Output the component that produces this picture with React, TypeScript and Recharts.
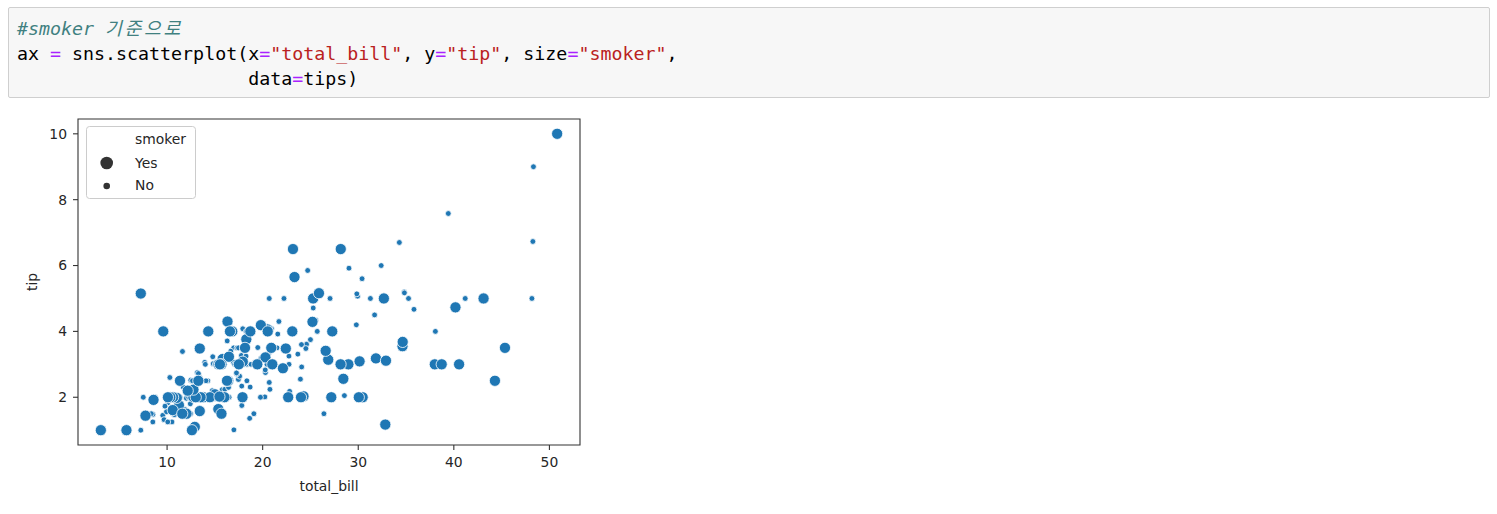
import React from "react";
import {
  ScatterChart,
  Scatter,
  XAxis,
  YAxis,
  ReferenceArea,
  Legend,
  Label,
} from "recharts";

// tips dataset, split by the "smoker" column: [total_bill, tip]
const smokerYes: [number, number][] = [
  [38.01, 3.0], [11.24, 1.76], [20.29, 3.21], [13.81, 2.0], [11.02, 1.98],
  [18.29, 3.76], [3.07, 1.0], [15.01, 2.09], [26.86, 3.14], [25.28, 5.0],
  [17.92, 3.08], [19.44, 3.0], [32.68, 5.0], [28.97, 3.0], [5.75, 1.0],
  [16.32, 4.3], [40.17, 4.73], [27.28, 4.0], [12.03, 1.5], [21.01, 3.0],
  [11.35, 2.5], [15.38, 3.0], [44.3, 2.5], [22.42, 3.48], [15.36, 1.64],
  [20.49, 4.06], [25.21, 4.29], [14.31, 4.0], [16.0, 2.0], [17.51, 3.0],
  [10.59, 1.61], [10.63, 2.0], [50.81, 10.0], [15.81, 3.16], [7.25, 5.15],
  [31.85, 3.18], [16.82, 4.0], [32.9, 3.11], [17.89, 2.0], [14.48, 2.0],
  [9.6, 4.0], [34.63, 3.55], [34.65, 3.68], [23.33, 5.65], [45.35, 3.5],
  [23.17, 6.5], [40.55, 3.0], [20.9, 3.5], [30.46, 2.0], [18.15, 3.5],
  [23.1, 4.0], [15.69, 1.5], [19.81, 4.19], [28.44, 2.56], [15.48, 2.02],
  [16.58, 4.0], [10.34, 2.0], [43.11, 5.0], [13.0, 2.0], [13.51, 2.0],
  [18.71, 4.0], [12.74, 2.01], [13.0, 2.0], [16.4, 2.5], [20.53, 4.0],
  [16.47, 3.23], [26.59, 3.41], [38.73, 3.0], [24.27, 2.03], [12.76, 2.23],
  [30.06, 2.0], [25.89, 5.16], [13.27, 2.5], [28.17, 6.5], [12.9, 1.1],
  [28.15, 3.0], [11.59, 1.5], [7.74, 1.44], [30.14, 3.09], [12.16, 2.2],
  [13.42, 3.48], [8.58, 1.92], [13.42, 1.58], [16.27, 2.5], [10.09, 2.0],
  [22.12, 2.88], [24.01, 2.0], [15.69, 3.0], [15.53, 3.0], [12.6, 1.0],
  [32.83, 1.17], [27.18, 2.0], [22.67, 2.0],
];

const smokerNo: [number, number][] = [
  [16.99, 1.01], [10.34, 1.66], [21.01, 3.5], [23.68, 3.31], [24.59, 3.61],
  [25.29, 4.71], [8.77, 2.0], [26.88, 3.12], [15.04, 1.96], [14.78, 3.23],
  [10.27, 1.71], [35.26, 5.0], [15.42, 1.57], [18.43, 3.0], [14.83, 3.02],
  [21.58, 3.92], [10.33, 1.67], [16.29, 3.71], [16.97, 3.5], [20.65, 3.35],
  [17.92, 4.08], [20.29, 2.75], [15.77, 2.23], [39.42, 7.58], [19.82, 3.18],
  [17.81, 2.34], [13.37, 2.0], [12.69, 2.0], [21.7, 4.3], [19.65, 3.0],
  [9.55, 1.45], [18.35, 2.5], [15.06, 3.0], [20.69, 2.45], [17.78, 3.27],
  [24.06, 3.6], [16.31, 2.0], [16.93, 3.07], [18.69, 2.31], [31.27, 5.0],
  [16.04, 2.24], [17.46, 2.54], [13.94, 3.06], [9.68, 1.32], [30.4, 5.6],
  [18.29, 3.0], [22.23, 5.0], [32.4, 6.0], [28.55, 2.05], [18.04, 3.0],
  [12.54, 2.5], [10.29, 2.6], [34.81, 5.2], [9.94, 1.56], [25.56, 4.34],
  [19.49, 3.51], [26.41, 1.5], [48.27, 6.73], [17.59, 2.64], [20.08, 3.15],
  [16.45, 2.47], [20.23, 2.01], [12.02, 1.97], [17.07, 3.0], [14.73, 2.2],
  [10.51, 1.25], [27.2, 4.0], [22.76, 3.0], [17.29, 2.71], [16.66, 3.4],
  [10.07, 1.83], [15.98, 2.03], [34.83, 5.17], [13.03, 2.0], [18.28, 4.0],
  [24.71, 5.85], [21.16, 3.0], [22.49, 3.5], [22.75, 3.25], [12.46, 1.5],
  [20.92, 4.08], [18.24, 3.76], [14.0, 3.0], [7.25, 1.0], [38.07, 4.0],
  [23.95, 2.55], [25.71, 4.0], [17.31, 3.5], [29.93, 5.07], [10.65, 1.5],
  [12.43, 1.8], [24.08, 2.92], [11.69, 2.31], [13.42, 1.68], [14.26, 2.5],
  [15.95, 2.0], [12.48, 2.52], [29.8, 4.2], [8.52, 1.48], [14.52, 2.0],
  [11.38, 2.0], [22.82, 2.18], [19.08, 1.5], [20.27, 2.83], [11.17, 1.5],
  [12.26, 2.0], [18.26, 3.25], [8.51, 1.25], [10.33, 2.0], [14.15, 2.0],
  [13.16, 2.75], [17.47, 3.5], [34.3, 6.7], [41.19, 5.0], [27.05, 5.0],
  [16.43, 2.3], [8.35, 1.5], [18.64, 1.36], [11.87, 1.63], [9.78, 1.73],
  [7.51, 2.0], [14.07, 2.5], [13.13, 2.0], [17.26, 2.74], [24.55, 2.0],
  [19.77, 2.0], [29.85, 5.14], [48.17, 5.0], [25.0, 3.75], [13.39, 2.61],
  [16.49, 2.0], [21.5, 3.5], [12.66, 2.5], [16.21, 2.0], [13.81, 2.0],
  [24.52, 3.48], [20.76, 2.24], [31.71, 4.5], [20.69, 5.0], [7.56, 1.44],
  [48.33, 9.0], [15.98, 3.0], [20.45, 3.0], [13.28, 2.72], [11.61, 3.39],
  [10.77, 1.47], [10.07, 1.25], [35.83, 4.67], [29.03, 5.92], [17.82, 1.75],
  [18.78, 3.0],
];

const smokerLevels = ["Yes", "No"];
const xTicks = [10, 20, 30, 40, 50];
const yTicks = [2, 4, 6, 8, 10];
const xDomain: [number, number] = [0.68, 53.2];
const yDomain: [number, number] = [0.55, 10.45];

const toRows = (pts: [number, number][]) =>
  pts.map(([total_bill, tip]) => ({ total_bill, tip }));

const BLUE = "#1f77b4";
const INK = "#262626";
const FONT = '"DejaVu Sans", sans-serif';
const MONO = '"DejaVu Sans Mono", "Noto Sans CJK KR", monospace';

const dot = (r: number) => (props: any) =>
  <circle cx={props.cx} cy={props.cy} r={r} fill={BLUE} stroke="#fff" strokeWidth={0.8} />;

const legendRadius: Record<string, number> = { Yes: 6.3, No: 3.3 };

function SizeLegend() {
  return (
    <svg width={110} height={73} style={{ display: "block", fontFamily: FONT }}>
      <rect x={0.5} y={0.5} width={109} height={72} rx={3} fill="#fff" fillOpacity={0.8} stroke="#cccccc" />
      <text x={49} y={18} fontSize={13.9} fill={INK}>smoker</text>
      {smokerLevels.map((lvl, i) => (
        <g key={lvl}>
          <circle cx={20.7} cy={37 + i * 23} r={legendRadius[lvl]} fill="#333333" />
          <text x={49} y={42 + i * 22} fontSize={13.9} fill={INK}>{lvl}</text>
        </g>
      ))}
    </svg>
  );
}

const P = ({ children }: { children: React.ReactNode }) => (
  <span style={{ color: "#aa22ff" }}>{children}</span>
);
const S = ({ children }: { children: React.ReactNode }) => (
  <span style={{ color: "#ba2121" }}>{children}</span>
);

export default function App() {
  return (
    <div style={{ position: "absolute", left: 0, top: 0, width: 1497, height: 514, background: "#fff" }}>
      <div
        style={{
          position: "absolute",
          left: 8,
          top: 7,
          width: 1480,
          height: 89,
          background: "#f7f7f7",
          border: "1px solid #cfcfcf",
          borderRadius: 2,
        }}
      >
        <pre
          style={{
            margin: 0,
            padding: "8px 0 0 8px",
            fontFamily: MONO,
            fontSize: 18.3,
            lineHeight: "25px",
            color: "#000",
          }}
        >
          <span style={{ color: "#408080", fontStyle: "italic" }}>
            #smoker <span style={{ letterSpacing: 2.7 }}>기준으로</span>
          </span>
          {"\n"}ax <P>=</P> sns.scatterplot(x<P>=</P><S>"total_bill"</S>, y<P>=</P><S>"tip"</S>, size<P>=</P><S>"smoker"</S>,
          {"\n"}{"                     "}data<P>=</P>tips)
        </pre>
      </div>

      <div style={{ position: "absolute", left: 0, top: 105 }}>
        <ScatterChart
          width={600}
          height={409}
          margin={{ top: 14, right: 20, bottom: 39, left: 38 }}
          style={{ fontFamily: FONT }}
        >
          <XAxis
            type="number"
            dataKey="total_bill"
            domain={xDomain}
            allowDataOverflow
            ticks={xTicks}
            interval={0}
            height={30}
            axisLine={false}
            tickSize={5}
            tickMargin={7}
            tickLine={{ stroke: "#333", strokeWidth: 1.1 }}
            tick={{ fill: INK, fontSize: 13.9 }}
          >
            <Label
              content={({ viewBox }: any) => (
                <text x={viewBox.x + viewBox.width / 2} y={viewBox.y + 46} textAnchor="middle" fontSize={13.9} fill={INK}>
                  total_bill
                </text>
              )}
            />
          </XAxis>
          <YAxis
            type="number"
            dataKey="tip"
            domain={yDomain}
            allowDataOverflow
            ticks={yTicks}
            interval={0}
            width={40}
            axisLine={false}
            tickSize={5}
            tickMargin={6}
            tickLine={{ stroke: "#333", strokeWidth: 1.1 }}
            tick={{ fill: INK, fontSize: 13.9 }}
          >
            <Label
              content={({ viewBox }: any) => {
                const x = viewBox.x - 1.5;
                const y = viewBox.y + viewBox.height / 2;
                return (
                  <text x={x} y={y} transform={`rotate(-90 ${x} ${y})`} textAnchor="middle" fontSize={13.9} fill={INK}>
                    tip
                  </text>
                );
              }}
            />
          </YAxis>
          <Scatter name="No" data={toRows(smokerNo)} shape={dot(2.9)} isAnimationActive={false} />
          <Scatter name="Yes" data={toRows(smokerYes)} shape={dot(5.6)} isAnimationActive={false} />
          <ReferenceArea
            x1={xDomain[0]}
            x2={xDomain[1]}
            y1={yDomain[0]}
            y2={yDomain[1]}
            fill="none"
            stroke="#333"
            strokeWidth={1.1}
            ifOverflow="visible"
          />
          <Legend
            verticalAlign="middle"
            align="center"
            layout="horizontal"
            wrapperStyle={{ left: 86, top: 21, width: 110, height: 73 }}
            content={() => <SizeLegend />}
          />
        </ScatterChart>
      </div>
    </div>
  );
}
